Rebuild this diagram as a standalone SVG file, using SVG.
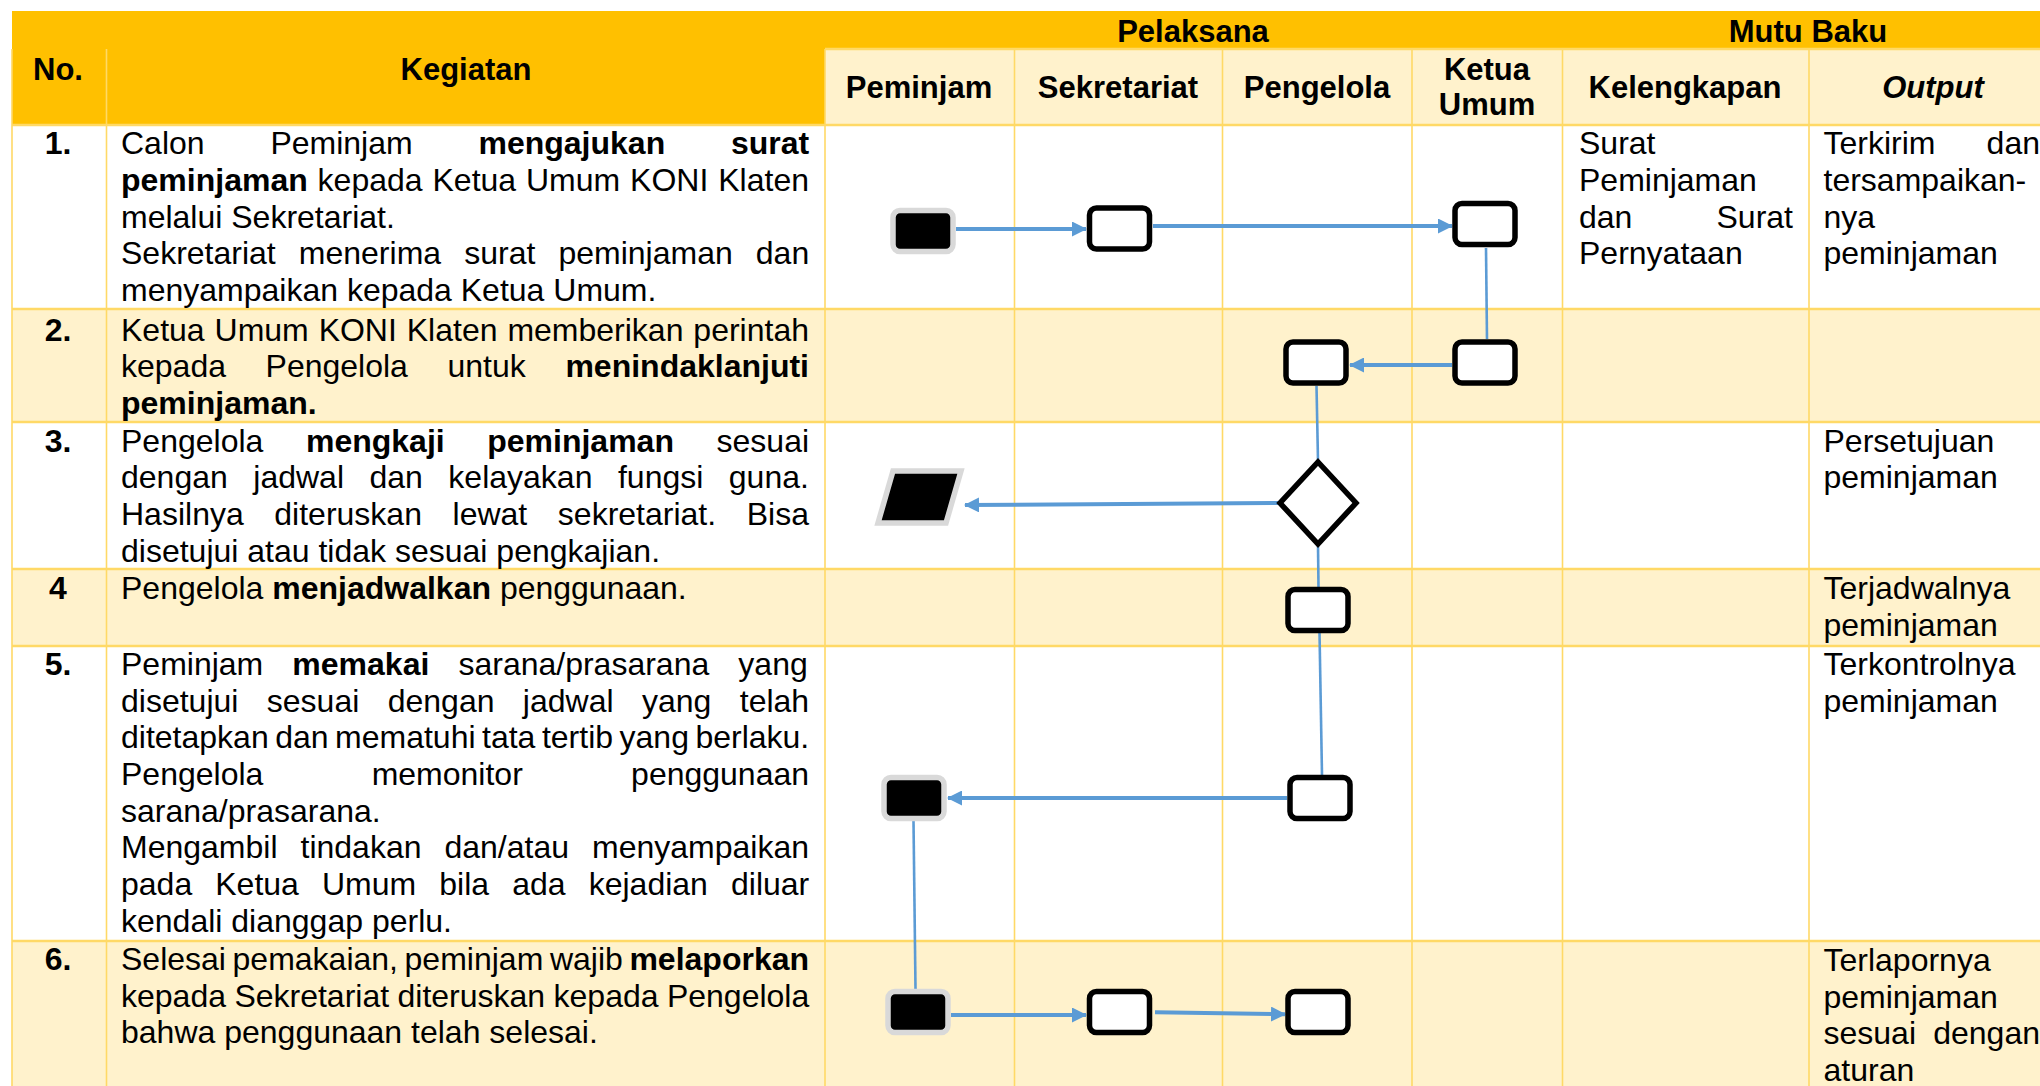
<svg xmlns="http://www.w3.org/2000/svg" width="2040" height="1086" viewBox="0 0 2040 1086">
<style>
text{font-family:"Liberation Sans",Arial,sans-serif;font-size:32px;fill:#000}
.h{font-weight:bold;font-size:31px;text-anchor:middle}
.n{font-weight:bold;text-anchor:middle}
.b{font-weight:bold}
.e{text-anchor:end}
.vl{stroke:#FFD966;stroke-width:1.6}
.hl{stroke:#FFD966;stroke-width:2.6}
.term{fill:#000;stroke:#D9D9D9;stroke-width:5.5}
.proc{fill:#fff;stroke:#000;stroke-width:5.5}
.arr{stroke:#5B9BD5;stroke-width:4;fill:none;marker-end:url(#ah)}
.ln{stroke:#5B9BD5;stroke-width:2.6;fill:none}
</style>
<defs>
<marker id="ah" markerUnits="userSpaceOnUse" viewBox="0 0 15 15" markerWidth="15" markerHeight="15" refX="14" refY="7.5" orient="auto">
<path d="M0,0 L15,7.5 L0,15 z" fill="#5B9BD5"/>
</marker>
</defs>
<rect x="0" y="0" width="2040" height="1086" fill="#fff"/>
<g id="table">
<rect x="12" y="11" width="2028" height="38" fill="#FFC000"/>
<rect x="12" y="49" width="813" height="76" fill="#FFC000"/>
<rect x="825" y="49" width="1215" height="76" fill="#FFF2CC"/>
<rect x="12" y="125" width="2028" height="184" fill="#fff"/>
<rect x="12" y="309" width="2028" height="113" fill="#FFF2CC"/>
<rect x="12" y="422" width="2028" height="147" fill="#fff"/>
<rect x="12" y="569" width="2028" height="77" fill="#FFF2CC"/>
<rect x="12" y="646" width="2028" height="295" fill="#fff"/>
<rect x="12" y="941" width="2028" height="145" fill="#FFF2CC"/>
<line class="vl" x1="12" y1="49" x2="12" y2="1086"/>
<line class="vl" x1="106.5" y1="49" x2="106.5" y2="1086"/>
<line class="vl" x1="825" y1="49" x2="825" y2="1086"/>
<line class="vl" x1="1014.5" y1="49" x2="1014.5" y2="1086"/>
<line class="vl" x1="1222.5" y1="49" x2="1222.5" y2="1086"/>
<line class="vl" x1="1412" y1="49" x2="1412" y2="1086"/>
<line class="vl" x1="1562.5" y1="49" x2="1562.5" y2="1086"/>
<line class="vl" x1="1809" y1="49" x2="1809" y2="1086"/>
<line class="hl" x1="825" y1="49" x2="2040" y2="49"/>
<line class="hl" x1="12" y1="125" x2="2040" y2="125"/>
<line class="hl" x1="12" y1="309" x2="2040" y2="309"/>
<line class="hl" x1="12" y1="422" x2="2040" y2="422"/>
<line class="hl" x1="12" y1="569" x2="2040" y2="569"/>
<line class="hl" x1="12" y1="646" x2="2040" y2="646"/>
<line class="hl" x1="12" y1="941" x2="2040" y2="941"/>
</g>
<g id="headers">
<text class="h" x="1193" y="42">Pelaksana</text>
<text class="h" x="1808" y="42">Mutu Baku</text>
<text class="h" x="58" y="80">No.</text>
<text class="h" x="466" y="80">Kegiatan</text>
<text class="h" x="919" y="98">Peminjam</text>
<text class="h" x="1118" y="98">Sekretariat</text>
<text class="h" x="1317" y="98">Pengelola</text>
<text class="h" x="1487" y="80">Ketua</text>
<text class="h" x="1487" y="115">Umum</text>
<text class="h" x="1685" y="98">Kelengkapan</text>
<text class="h" x="1933" y="98" font-style="italic">Output</text>
</g>
<g id="numbers">
<text class="n" x="58" y="154">1.</text>
<text class="n" x="58" y="340.7">2.</text>
<text class="n" x="58" y="451.7">3.</text>
<text class="n" x="58" y="599">4</text>
<text class="n" x="58" y="675">5.</text>
<text class="n" x="58" y="970">6.</text>
</g>
<g id="kegiatan">
<text x="121" y="154" word-spacing="56.9">Calon Peminjam <tspan class="b">mengajukan surat</tspan></text>
<text x="121" y="190.7" word-spacing="1"><tspan class="b">peminjaman</tspan> kepada Ketua Umum KONI Klaten</text>
<text x="121" y="227.7">melalui Sekretariat.</text>
<text x="121" y="264.3" word-spacing="14.2">Sekretariat menerima surat peminjaman dan</text>
<text x="121" y="301">menyampaikan kepada Ketua Umum.</text>

<text x="121" y="340.7" word-spacing="1">Ketua Umum KONI Klaten memberikan perintah</text>
<text x="121" y="377.3" word-spacing="30.7">kepada Pengelola untuk <tspan class="b">menindaklanjuti</tspan></text>
<text x="121" y="414.3" class="b">peminjaman.</text>

<text x="121" y="451.7" word-spacing="33.7">Pengelola <tspan class="b">mengkaji peminjaman</tspan> sesuai</text>
<text x="121" y="488.3" word-spacing="16.6">dengan jadwal dan kelayakan fungsi guna.</text>
<text x="121" y="525" word-spacing="21.7">Hasilnya diteruskan lewat sekretariat. Bisa</text>
<text x="121" y="561.7">disetujui atau tidak sesuai pengkajian.</text>

<text x="121" y="599">Pengelola <tspan class="b">menjadwalkan</tspan> penggunaan.</text>

<text x="121" y="675" word-spacing="20.2">Peminjam <tspan class="b">memakai</tspan> sarana/prasarana yang</text>
<text x="121" y="711.7" word-spacing="19.5">disetujui sesuai dengan jadwal yang telah</text>
<text x="121" y="748.3" word-spacing="-2.4">ditetapkan dan mematuhi tata tertib yang berlaku.</text>
<text x="121" y="785" word-spacing="99.4">Pengelola memonitor penggunaan</text>
<text x="121" y="821.7">sarana/prasarana.</text>
<text x="121" y="858.3" word-spacing="14.1">Mengambil tindakan dan/atau menyampaikan</text>
<text x="121" y="895" word-spacing="14.2">pada Ketua Umum bila ada kejadian diluar</text>
<text x="121" y="931.7">kendali dianggap perlu.</text>

<text x="121" y="970" word-spacing="-2.3">Selesai pemakaian, peminjam wajib <tspan class="b">melaporkan</tspan></text>
<text x="121" y="1006.7" word-spacing="-0.5">kepada Sekretariat diteruskan kepada Pengelola</text>
<text x="121" y="1043.3">bahwa penggunaan telah selesai.</text>
</g>
<g id="kelengkapan">
<text x="1579" y="154">Surat</text>
<text x="1579" y="190.7">Peminjaman</text>
<text x="1579" y="227.7">dan</text>
<text class="e" x="1793" y="227.7">Surat</text>
<text x="1579" y="264.3">Pernyataan</text>
</g>
<g id="output">
<text x="1823.5" y="154">Terkirim</text>
<text class="e" x="2040" y="154">dan</text>
<text x="1823.5" y="190.7">tersampaikan-</text>
<text x="1823.5" y="227.7">nya</text>
<text x="1823.5" y="264.3">peminjaman</text>
<text x="1823.5" y="451.7">Persetujuan</text>
<text x="1823.5" y="488.3">peminjaman</text>
<text x="1823.5" y="599">Terjadwalnya</text>
<text x="1823.5" y="635.7">peminjaman</text>
<text x="1823.5" y="675">Terkontrolnya</text>
<text x="1823.5" y="711.7">peminjaman</text>
<text x="1823.5" y="971">Terlapornya</text>
<text x="1823.5" y="1007.7">peminjaman</text>
<text x="1823.5" y="1044.3">sesuai</text>
<text class="e" x="2040" y="1044.3">dengan</text>
<text x="1823.5" y="1081">aturan</text>
</g>
<g id="connectors">
<line class="arr" x1="956" y1="229" x2="1086" y2="229"/>
<line class="arr" x1="1153" y1="226" x2="1452" y2="226"/>
<line class="ln" x1="1486" y1="248" x2="1487" y2="339"/>
<line class="arr" x1="1452" y1="365" x2="1350" y2="365"/>
<line class="ln" x1="1316.5" y1="386" x2="1318" y2="461"/>
<line class="arr" x1="1279" y1="503" x2="965" y2="505"/>
<line class="ln" x1="1318" y1="545" x2="1318.5" y2="588"/>
<line class="ln" x1="1319.5" y1="632" x2="1322" y2="775"/>
<line class="arr" x1="1287" y1="798" x2="948" y2="798"/>
<line class="ln" x1="913.5" y1="821" x2="915.5" y2="989"/>
<line class="arr" x1="951" y1="1015" x2="1086" y2="1015"/>
<line class="arr" x1="1155" y1="1012.3" x2="1285" y2="1014.3"/>
</g>
<g id="n1-peminjam"><rect class="term" x="893" y="210.5" width="60" height="41" rx="7"/></g>
<g id="n1-sekretariat"><rect class="proc" x="1089.5" y="208" width="60" height="41" rx="7"/></g>
<g id="n1-ketua"><rect class="proc" x="1455" y="203.5" width="60" height="41" rx="7"/></g>
<g id="n2-ketua"><rect class="proc" x="1455" y="342" width="60" height="41" rx="7"/></g>
<g id="n2-pengelola"><rect class="proc" x="1286" y="342" width="60" height="41" rx="7"/></g>
<g id="n3-decision"><polygon class="proc" points="1318,462 1356,503 1318,544 1280,503" stroke-width="5"/></g>
<g id="n3-peminjam"><polygon class="term" points="893,471 961,471 946,523 878,523" stroke-width="5"/></g>
<g id="n4-pengelola"><rect class="proc" x="1288" y="589.5" width="60" height="41" rx="7"/></g>
<g id="n5-pengelola"><rect class="proc" x="1290" y="777.5" width="60" height="41" rx="7"/></g>
<g id="n5-peminjam"><rect class="term" x="884" y="777.5" width="60" height="41" rx="7"/></g>
<g id="n6-peminjam"><rect class="term" x="888" y="991.5" width="60" height="41" rx="7"/></g>
<g id="n6-sekretariat"><rect class="proc" x="1089.5" y="991.5" width="60" height="41" rx="7"/></g>
<g id="n6-pengelola"><rect class="proc" x="1288" y="991.5" width="60" height="41" rx="7"/></g>
</svg>
